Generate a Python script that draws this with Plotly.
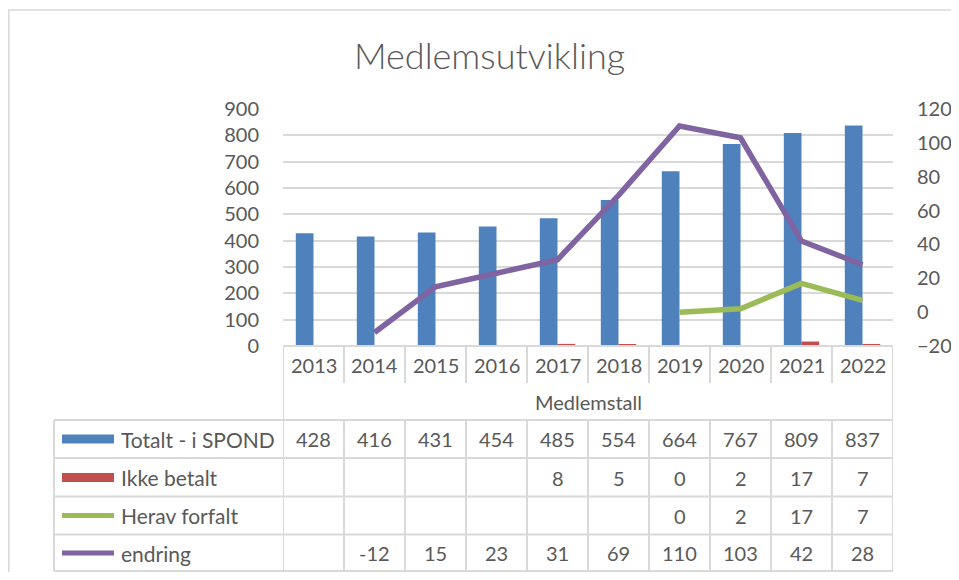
import plotly.graph_objects as go

years = ["2013", "2014", "2015", "2016", "2017", "2018", "2019", "2020", "2021", "2022"]
totalt = [428, 416, 431, 454, 485, 554, 664, 767, 809, 837]
ikke_betalt = [None, None, None, None, 8, 5, 0, 2, 17, 7]
herav_forfalt = [None, None, None, None, None, None, 0, 2, 17, 7]
endring = [None, -12, 15, 23, 31, 69, 110, 103, 42, 28]

series_names = ["Totalt - i SPOND", "Ikke betalt", "Herav forfalt", "endring"]
series_values = [totalt, ikke_betalt, herav_forfalt, endring]
colors = ["#4F81BD", "#C0504D", "#9BBB59", "#8064A2"]

# page offset caused by the default body margin; figure sized so the page does not overflow
OX, OY = 8, 8
W, H = 943, 564
FONT = "Lato"
TXT = "#595959"
GRID = "#D9D9D9"
FS = 20


def px(x):
    return (x - OX) / W


def py(y):
    return 1 - (y - OY) / H


n = len(years)

fig = go.Figure()
fig.add_trace(go.Bar(x=years, y=totalt, name=series_names[0], marker_color=colors[0],
                     marker_line_width=0, yaxis="y"))
fig.add_trace(go.Bar(x=years, y=ikke_betalt, name=series_names[1], marker_color=colors[1],
                     marker_line_width=0, yaxis="y"))
fig.add_trace(go.Scatter(x=years, y=herav_forfalt, name=series_names[2], mode="lines",
                         line=dict(color=colors[2], width=5.5), yaxis="y2"))
fig.add_trace(go.Scatter(x=years, y=endring, name=series_names[3], mode="lines",
                         line=dict(color=colors[3], width=5.5), yaxis="y2"))

# plot area in page pixels
L, R, T, B = 283, 893, 109, 346

shapes = []
annotations = []


def hline(y, x0, x1):
    shapes.append(dict(type="line", xref="paper", yref="paper", x0=px(x0), x1=px(x1),
                       y0=py(y), y1=py(y), line=dict(color=GRID, width=2)))


def vline_data(xd, y0, y1):
    shapes.append(dict(type="line", xref="x", yref="paper", x0=xd, x1=xd,
                       y0=py(y0), y1=py(y1), line=dict(color=GRID, width=2)))


# chart border
shapes.append(dict(type="line", xref="paper", yref="paper", x0=px(8), x1=1.0,
                   y0=py(10), y1=py(10), line=dict(color=GRID, width=1.5)))
shapes.append(dict(type="line", xref="paper", yref="paper", x0=px(8.8), x1=px(8.8),
                   y0=py(10), y1=0, line=dict(color=GRID, width=1.5)))

# table frame
TB = 571
row_lines = [420, 458, 496.5, 534.5, TB]
hline(B, L, R)
for yl in row_lines:
    hline(yl, 54, R)
shapes.append(dict(type="line", xref="paper", yref="paper", x0=px(54), x1=px(54),
                   y0=py(420), y1=py(TB), line=dict(color=GRID, width=2)))
for i in range(n + 1):
    xd = i - 0.5
    if i == 0 or i == n:
        vline_data(xd, B, TB)
    else:
        vline_data(xd, B, 383)
        vline_data(xd, 420, TB)

# year header
for i, yr in enumerate(years):
    annotations.append(dict(x=i, xref="x", y=py(364.5), yref="paper", text=yr,
                            showarrow=False, font=dict(family=FONT, size=FS, color=TXT),
                            xanchor="center", yanchor="middle"))
annotations.append(dict(x=(n - 1) / 2, xref="x", y=py(401.5), yref="paper",
                        text="Medlemstall", showarrow=False,
                        font=dict(family=FONT, size=FS, color=TXT),
                        xanchor="center", yanchor="middle"))

row_centers = [439, 477.5, 515.5, 553]
for r, (name, vals, col) in enumerate(zip(series_names, series_values, colors)):
    yc = row_centers[r]
    annotations.append(dict(x=px(119), xref="paper", y=py(yc), yref="paper", text=name,
                            showarrow=False, font=dict(family=FONT, size=FS + 1, color=TXT),
                            xanchor="left", yanchor="middle"))
    if r < 2:
        shapes.append(dict(type="rect", xref="paper", yref="paper", x0=px(62), x1=px(114),
                           y0=py(yc - 4.5), y1=py(yc + 4.5), fillcolor=col,
                           line=dict(width=0)))
    else:
        shapes.append(dict(type="line", xref="paper", yref="paper", x0=px(62), x1=px(114),
                           y0=py(yc), y1=py(yc), line=dict(color=col, width=5)))
    for i, v in enumerate(vals):
        if v is None:
            continue
        annotations.append(dict(x=i, xref="x", y=py(yc), yref="paper", text=str(v),
                                showarrow=False, font=dict(family=FONT, size=FS, color=TXT),
                                xanchor="center", yanchor="middle"))

fig.update_layout(
    width=W, height=H,
    margin=dict(l=0, r=0, t=0, b=0, autoexpand=False),
    paper_bgcolor="white", plot_bgcolor="white",
    showlegend=False,
    barmode="group", bargap=0.42, bargroupgap=0,
    title=dict(text="Medlemsutvikling", x=px(489.5), xanchor="center", y=py(56),
               yanchor="middle",
               font=dict(family="Lato Light, Lato", size=36, color=TXT)),
    xaxis=dict(type="category", domain=[px(L), px(R)], showticklabels=False, showgrid=False,
               zeroline=False, showline=False, ticks="", range=[-0.5, n - 0.5],
               automargin=False),
    yaxis=dict(domain=[py(B), py(T)], range=[0, 900], dtick=100, showgrid=True,
               gridcolor=GRID, gridwidth=1.5, zeroline=False, showline=False,
               tickfont=dict(family=FONT, size=FS, color=TXT), ticklabelstandoff=23,
               automargin=False),
    yaxis2=dict(overlaying="y", side="right", range=[-20, 120], dtick=20, showgrid=False,
                zeroline=False, showline=False,
                tickfont=dict(family=FONT, size=FS, color=TXT), ticklabelstandoff=23,
                automargin=False),
    shapes=shapes,
    annotations=annotations,
)

fig.write_html("out.html")
